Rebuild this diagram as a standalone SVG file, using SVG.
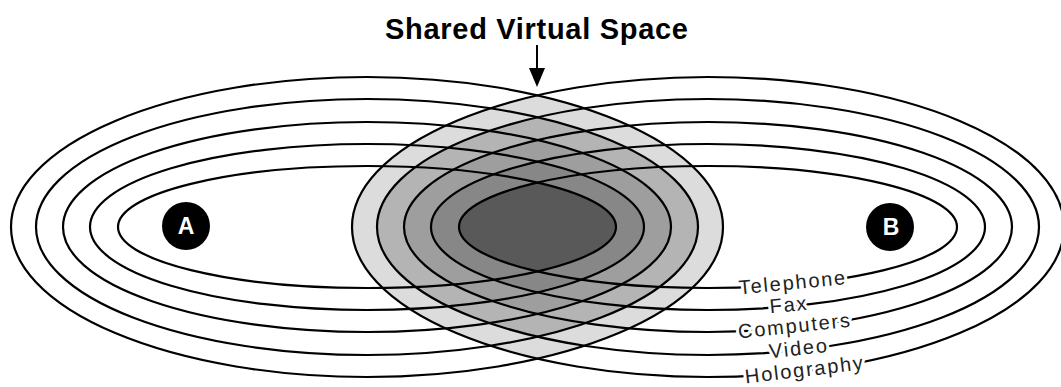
<svg xmlns="http://www.w3.org/2000/svg" width="1061" height="387" viewBox="0 0 1061 387">
<style>
.ring{fill:none;stroke:#000;stroke-width:2.2}
.lbl{font-family:"Liberation Sans",Arial,sans-serif;font-size:20px;letter-spacing:1.8px;fill:#222;stroke:#fff;stroke-width:6;stroke-linejoin:round;paint-order:stroke fill;text-anchor:middle}
.title{font-family:"Liberation Sans",Arial,sans-serif;font-size:29px;font-weight:bold;fill:#000}
.badge{fill:#000}
.badgetxt{font-family:"Liberation Sans",Arial,sans-serif;font-size:23px;font-weight:bold;fill:#fff;text-anchor:middle}
</style>
<defs>
<clipPath id="cB1"><ellipse cx="708" cy="227" rx="356" ry="150"/></clipPath>
<clipPath id="cB2"><ellipse cx="708" cy="227" rx="331" ry="128"/></clipPath>
<clipPath id="cB3"><ellipse cx="708" cy="227" rx="304" ry="105"/></clipPath>
<clipPath id="cB4"><ellipse cx="708" cy="227" rx="277" ry="83"/></clipPath>
<clipPath id="cB5"><ellipse cx="708" cy="227" rx="249" ry="61"/></clipPath>
</defs>
<rect width="1061" height="387" fill="#fff"/>
<g id="shared-space">
<ellipse cx="367" cy="227" rx="356" ry="150" fill="#dcdcdc" clip-path="url(#cB1)"/>
<ellipse cx="367" cy="227" rx="331" ry="128" fill="#b4b4b4" clip-path="url(#cB2)"/>
<ellipse cx="367" cy="227" rx="304" ry="105" fill="#9e9e9e" clip-path="url(#cB3)"/>
<ellipse cx="367" cy="227" rx="277" ry="83" fill="#878787" clip-path="url(#cB4)"/>
<ellipse cx="367" cy="227" rx="249" ry="61" fill="#595959" clip-path="url(#cB5)"/>
</g>
<g id="ellipses-A">
<ellipse class="ring" cx="367" cy="227" rx="356" ry="150"/>
<ellipse class="ring" cx="367" cy="227" rx="331" ry="128"/>
<ellipse class="ring" cx="367" cy="227" rx="304" ry="105"/>
<ellipse class="ring" cx="367" cy="227" rx="277" ry="83"/>
<ellipse class="ring" cx="367" cy="227" rx="249" ry="61"/>
</g>
<g id="ellipses-B">
<ellipse class="ring" cx="708" cy="227" rx="356" ry="150"/>
<ellipse class="ring" cx="708" cy="227" rx="331" ry="128"/>
<ellipse class="ring" cx="708" cy="227" rx="304" ry="105"/>
<ellipse class="ring" cx="708" cy="227" rx="277" ry="83"/>
<ellipse class="ring" cx="708" cy="227" rx="249" ry="61"/>
</g>
<g id="labels">
<text class="lbl" transform="translate(793 284.3) rotate(-5.5)" y="5">Telephone</text>
<text class="lbl" transform="translate(789 306.4) rotate(-5.5)" y="5">Fax</text>
<text class="lbl" transform="translate(795 327.6) rotate(-6)" y="5">Computers</text>
<text class="lbl" transform="translate(799 350.1) rotate(-6.3)" y="5">Video</text>
<text class="lbl" transform="translate(805 371.3) rotate(-6.8)" y="5">Holography</text>
</g>
<g id="node-A">
<circle class="badge" cx="186" cy="226" r="24"/>
<text class="badgetxt" x="186" y="234">A</text>
</g>
<g id="node-B">
<circle class="badge" cx="890" cy="227" r="24"/>
<text class="badgetxt" x="891" y="235">B</text>
</g>
<g id="title">
<text class="title" x="385" y="39" textLength="303" lengthAdjust="spacing">Shared Virtual Space</text>
</g>
<g id="connectors">
<line x1="537" y1="45" x2="537" y2="72" stroke="#000" stroke-width="2"/>
<polygon points="529,68 545,68 537,87" fill="#000"/>
</g>
</svg>
